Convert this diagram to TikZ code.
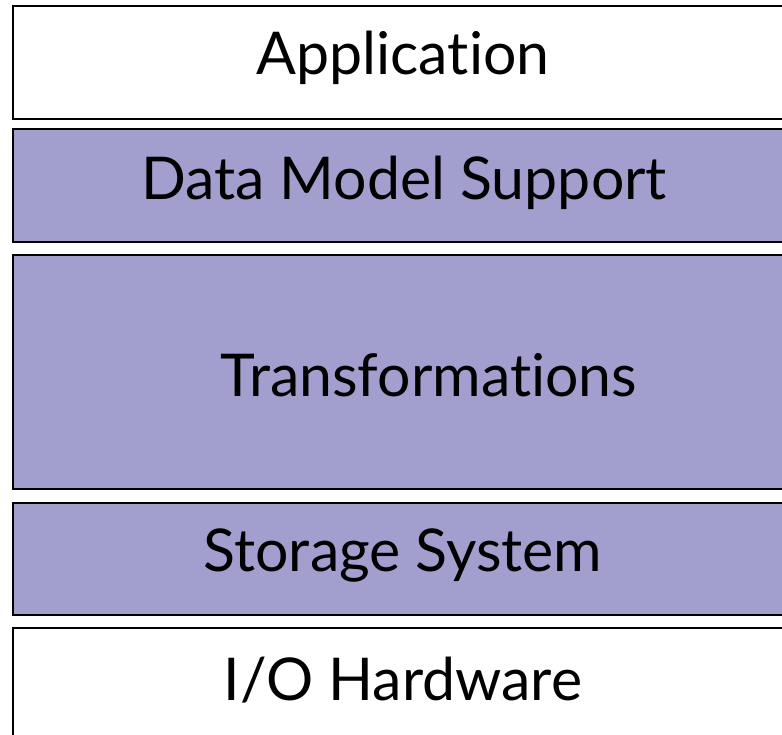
\documentclass[tikz,border=0pt]{standalone}
\usepackage{fontspec}
\setmainfont[Ligatures=NoCommon]{Lato}
\definecolor{layerfill}{HTML}{A29FCF}
\begin{document}
\begin{tikzpicture}[x=1pt,y=-1pt,
  layer/.style={draw=black, line width=2pt, anchor=north west, inner sep=0pt},
  lbl/.style={font=\fontsize{59}{66}\selectfont, text=black}]
\useasboundingbox (0,0) rectangle (782,735);
\clip (0,0) rectangle (782,735);
\node[layer, fill=white, minimum width=790pt, minimum height=113pt] (app) at (12,5) {};
\node[layer, fill=layerfill, minimum width=790pt, minimum height=113pt] (dms) at (12,128) {};
\node[layer, fill=layerfill, minimum width=790pt, minimum height=234pt] (tr) at (12,254) {};
\node[layer, fill=layerfill, minimum width=790pt, minimum height=112pt] (ss) at (12,502) {};
\node[layer, fill=white, minimum width=790pt, minimum height=130pt] (io) at (12,627) {};
\node[lbl] (tapp) at (403,58) {Application};
\node[lbl] (tdms) at (404,183) {Data Model Support};
\node[lbl] (ttr) at (429,375) {Transformations};
\node[lbl] (tss) at (403,556) {Storage System};
\node[lbl] (tio) at (403,680) {I/O Hardware};
\end{tikzpicture}
\end{document}
